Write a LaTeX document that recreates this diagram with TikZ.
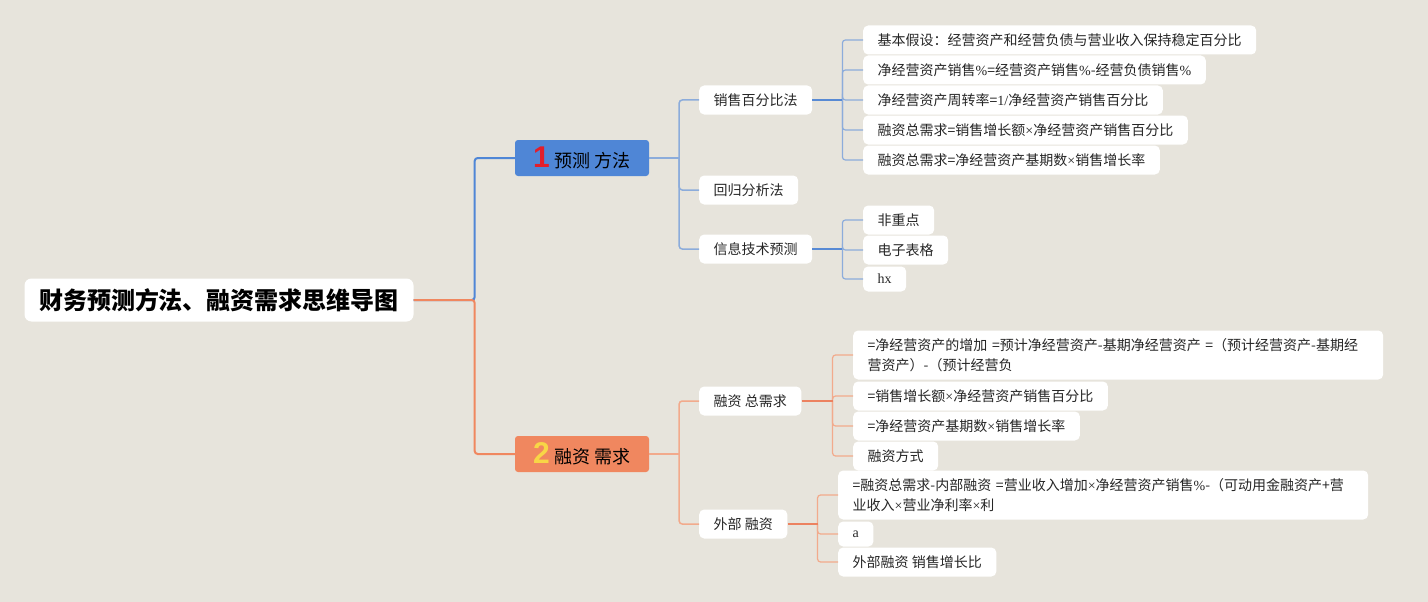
\documentclass[tikz,border=0pt]{standalone}
\usepackage{fontspec}
\setmainfont{Noto Sans CJK SC}
\newfontfamily\latfont{Liberation Serif}
\newfontfamily\numfont{Liberation Sans}
\usepackage{xcolor}
\usetikzlibrary{calc, positioning}

\definecolor{bgc}{RGB}{231,228,220}
\definecolor{bluemain}{RGB}{79,134,214}
\definecolor{bluelink}{RGB}{88,138,212}
\definecolor{bluelite}{RGB}{140,172,219}
\definecolor{orgmain}{RGB}{240,135,95}
\definecolor{orglink}{RGB}{236,130,96}
\definecolor{orglite}{RGB}{242,170,140}
\definecolor{numred}{RGB}{226,30,44}
\definecolor{numyel}{RGB}{248,214,70}
\definecolor{txt}{RGB}{38,38,38}
\newcommand\en[1]{{\latfont #1}}

\tikzset{
    rootbox/.style={fill=white, rounded corners=7pt, inner xsep=14.5pt, minimum height=43pt,
        font=\fontsize{24}{28}\selectfont\bfseries, text=black},
    branch/.style={rounded corners=3pt, minimum width=134pt, minimum height=36pt, inner sep=0pt,
        font=\fontsize{18}{22}\selectfont, text=black},
    sub/.style={fill=white, rounded corners=5pt, anchor=west, inner xsep=14.5pt, inner ysep=0pt,
        minimum height=29pt, font=\fontsize{14}{20}\selectfont, text=txt},
    leaf/.style={sub},
    wide/.style={sub, text width=501pt, align=left, minimum height=49pt},
    bl1/.style={draw=bluemain, line width=2pt, rounded corners=3pt},
    bl2/.style={draw=bluelite, line width=1.5pt, rounded corners=3pt},
    bl3/.style={draw=bluelink, line width=2pt},
    bl4/.style={draw=bluelite, line width=1.2pt, rounded corners=3pt},
    or1/.style={draw=orgmain, line width=2pt, rounded corners=3pt},
    or2/.style={draw=orglite, line width=1.5pt, rounded corners=3pt},
    or3/.style={draw=orglink, line width=2pt},
    or4/.style={draw=orglite, line width=1.2pt, rounded corners=3pt},
}

\begin{document}
\begin{tikzpicture}[x=1pt, y=-1pt]
    % 背景
    \fill[bgc] (0,0) rectangle (1428,602);
    \useasboundingbox (0,0) rectangle (1428,602);

    % 根节点与两个主题
    \node[rootbox] (root) at (219,300) {财务预测方法、融资需求思维导图};
    \node[branch, fill=bluemain] (b1) at (582,158)
        {{\numfont\fontsize{30}{30}\selectfont\bfseries\color{numred}1}\hspace{5pt}预测 方法};
    \node[branch, fill=orgmain] (b2) at (582,454)
        {{\numfont\fontsize{30}{30}\selectfont\bfseries\color{numyel}2}\hspace{5pt}融资 需求};
    \coordinate (j0) at ($(root.east)+(61,0)$);
    \draw[bl1] (root.east) -- (j0) |- (b1.west);
    \draw[or1] (root.east) -- (j0) |- (b2.west);

    % 预测方法
    \node[sub] (s1) at (699,100) {销售百分比法};
    \node[sub] (s2) at (699,190) {回归分析法};
    \node[sub] (s3) at (699,249) {信息技术预测};
    \coordinate (j1) at ($(b1.east)+(30,0)$);
    \draw[bl2] (b1.east) -- (j1);
    \foreach \s in {s1,s2,s3}
        \draw[bl2] (j1) |- (\s.west);

    % 销售百分比法
    \foreach \n/\y/\t in {1/40/{基本假设：经营资产和经营负债与营业收入保持稳定百分比},
                          2/70/{净经营资产销售\en{\%}=经营资产销售\en{\%}-经营负债销售\en{\%}},
                          3/100/{净经营资产周转率=\en{1/}净经营资产销售百分比},
                          4/130/{融资总需求=销售增长额\en{×}净经营资产销售百分比},
                          5/160/{融资总需求=净经营资产基期数\en{×}销售增长率}}
        \node[leaf] (a\n) at (863,\y) {\t};
    \coordinate (k1) at ($(s1.east)+(30,0)$);
    \foreach \n in {1,...,5}
        \draw[bl4] (k1) |- (a\n.west);
    \draw[bl3] (s1.east) -- (k1);

    % 信息技术预测
    \node[leaf] (c1) at (863,220) {非重点};
    \node[leaf] (c2) at (863,250) {电子表格};
    \node[leaf, minimum height=25pt] (c3) at (863,279) {\en{hx}};
    \coordinate (k3) at ($(s3.east)+(30,0)$);
    \foreach \n in {1,2,3}
        \draw[bl4] (k3) |- (c\n.west);
    \draw[bl3] (s3.east) -- (k3);

    % 融资需求
    \node[sub] (s4) at (699,401) {融资 总需求};
    \node[sub] (s5) at (699,524) {外部 融资};
    \coordinate (j2) at ($(b2.east)+(30,0)$);
    \draw[or2] (b2.east) -- (j2);
    \foreach \s in {s4,s5}
        \draw[or2] (j2) |- (\s.west);

    % 融资总需求
    \node[wide] (d1) at (853,355)
        {=净经营资产的增加 =预计净经营资产-基期净经营资产 =（预计经营资产-基期经\\营资产）-（预计经营负};
    \node[leaf] (d2) at (853,396) {=销售增长额\en{×}净经营资产销售百分比};
    \node[leaf] (d3) at (853,426) {=净经营资产基期数\en{×}销售增长率};
    \node[leaf] (d4) at (853,456) {融资方式};
    \coordinate (k4) at ($(s4.east)+(31,0)$);
    \foreach \n in {1,...,4}
        \draw[or4] (k4) |- (d\n.west);
    \draw[or3] (s4.east) -- (k4);

    % 外部融资
    \node[wide] (e1) at (838,495)
        {=融资总需求-内部融资 =营业收入增加\en{×}净经营资产销售\en{\%}-（可动用金融资产+营\\业收入\en{×}营业净利率\en{×}利};
    \node[leaf, minimum height=25pt] (e2) at (838,534) {\en{a}};
    \node[leaf] (e3) at (838,562) {外部融资 销售增长比};
    \coordinate (k5) at ($(s5.east)+(30,0)$);
    \foreach \n in {1,2,3}
        \draw[or4] (k5) |- (e\n.west);
    \draw[or3] (s5.east) -- (k5);
\end{tikzpicture}
\end{document}
